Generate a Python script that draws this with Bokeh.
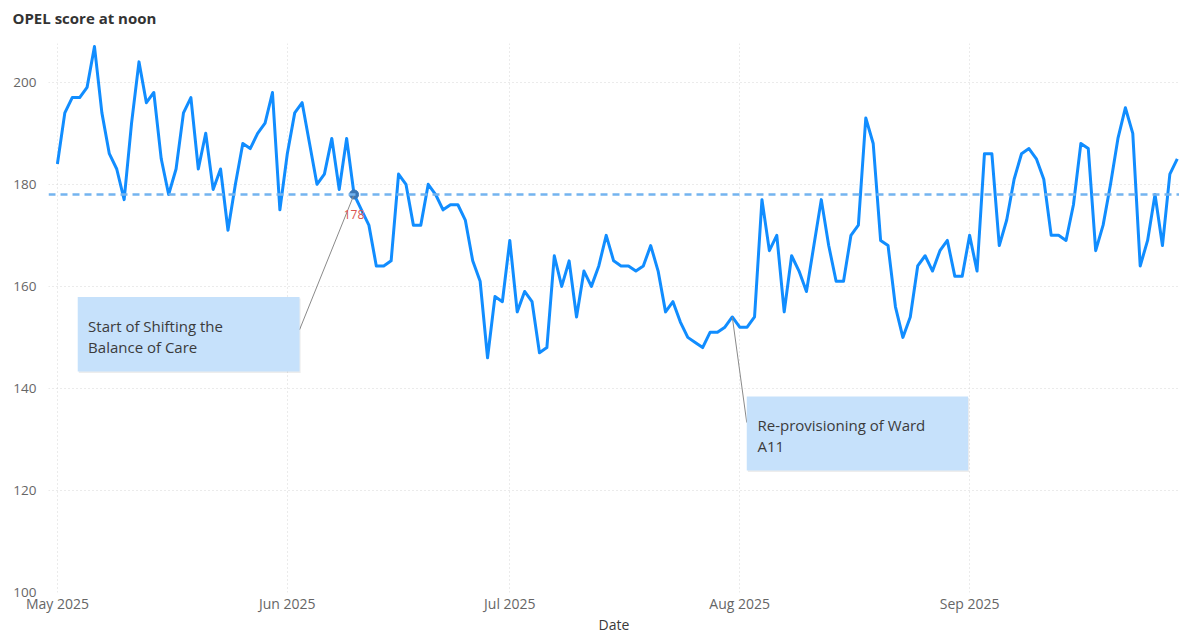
import pandas as pd
from datetime import timedelta
from bokeh.plotting import figure
from bokeh.models import (Range1d, FixedTicker, DatetimeTickFormatter, Span,
                          BoxAnnotation, Label, ColumnDataSource)
from bokeh.embed import file_html
from bokeh.resources import INLINE

# ---------------- data ----------------
start_date = "2025-05-01"
may = [184, 194, 197, 197, 199, 207, 194, 186, 183, 177, 192, 204, 196, 198, 185, 178,
       183, 194, 197, 183, 190, 179, 183, 171, 180, 188, 187, 190, 192, 198, 175]
jun = [186, 194, 196, 188, 180, 182, 189, 179, 189, 178, 175, 172, 164, 164, 165, 182,
       180, 172, 172, 180, 178, 175, 176, 176, 173, 165, 161, 146, 158, 157]
jul = [169, 155, 159, 157, 147, 148, 166, 160, 165, 154, 163, 160, 164, 170, 165, 164,
       164, 163, 164, 168, 163, 155, 157, 153, 150, 149, 148, 151, 151, 152, 154]
aug = [152, 152, 154, 177, 167, 170, 155, 166, 163, 159, 168, 177, 168, 161, 161, 170,
       172, 193, 188, 169, 168, 156, 150, 154, 164, 166, 163, 167, 169, 162, 162]
sep = [170, 163, 186, 186, 168, 173, 181, 186, 187, 185, 181, 170, 170, 169, 176, 188,
       187, 167, 172, 180, 189, 195, 190, 164, 169, 178, 168, 182, 185]
scores = may + jun + jul + aug + sep
dates = pd.date_range(start_date, periods=len(scores), freq="D")

y_ticks = [100, 120, 140, 160, 180, 200]
month_ticks = ["2025-05-01", "2025-06-01", "2025-07-01", "2025-08-01", "2025-09-01"]
threshold = 178

title_text = "OPEL score at noon"
x_label_text = "Date"
ann1_text = ["Start of Shifting the", "Balance of Care"]
ann1_date = "2025-06-10"
ann2_text = ["Re-provisioning of Ward", "A11"]
ann2_date = "2025-07-31"

# ---------------- figure ----------------
d0 = dates[0]
def day(offset):
    return d0 + timedelta(days=offset)

p = figure(width=1179, height=636, x_axis_type="datetime",
           output_backend="svg", toolbar_location=None,
           x_range=Range1d(d0 - timedelta(days=1.2), dates[-1] + timedelta(days=0.3)),
           y_range=Range1d(100, 207.6),
           min_border_left=48, min_border_right=0, min_border_top=43, min_border_bottom=43)
p.outline_line_color = None
p.background_fill_color = "white"
p.border_fill_color = "white"

p.title.text = title_text
p.title.align = "left"
p.title.offset = -36
p.title.text_font = "Open Sans"
p.title.text_font_size = "15px"
p.title.text_font_style = "bold"
p.title.text_color = "#333333"
p.title.standoff = 8
p.title.padding = dict(left=0, right=0, top=0, bottom=12)

tick_ms = [pd.Timestamp(t).value // 10**6 for t in month_ticks]
p.xaxis.ticker = FixedTicker(ticks=tick_ms)
fmt = "%b %Y"
p.xaxis.formatter = DatetimeTickFormatter(years=fmt, months=fmt, days=fmt, hours=fmt,
                                          minutes=fmt, seconds=fmt, milliseconds=fmt,
                                          microseconds=fmt, hourmin=fmt, minsec=fmt)
p.yaxis.ticker = FixedTicker(ticks=y_ticks)

for ax in (p.xaxis, p.yaxis):
    ax.axis_line_color = None
    ax.major_tick_line_color = None
    ax.minor_tick_line_color = None
    ax.major_tick_out = 0
    ax.major_tick_in = 0
    ax.minor_tick_out = 0
    ax.minor_tick_in = 0
    ax.major_label_text_font = "Open Sans"
    ax.major_label_text_color = "#666666"
p.xaxis.major_label_text_font_size = "14px"
p.yaxis.major_label_text_font_size = "13.5px"
p.xaxis.major_label_standoff = 1
p.yaxis.major_label_standoff = 12

p.xaxis.axis_label = x_label_text
p.xaxis.axis_label_text_font = "Open Sans"
p.xaxis.axis_label_text_font_size = "14px"
p.xaxis.axis_label_text_font_style = "normal"
p.xaxis.axis_label_text_color = "#3a3a3a"
p.xaxis.axis_label_standoff = -1

for g in (p.xgrid, p.ygrid):
    g.grid_line_color = "#d6d6d6"
    g.grid_line_dash = "1 3"
    g.grid_line_width = 1

p.add_layout(Span(location=threshold, dimension="width", line_color="#74b4ef",
                  line_width=2.5, line_dash="7 5"))

src = ColumnDataSource(dict(date=dates, score=scores))
p.line("date", "score", source=src, line_color="#118DFF", line_width=3,
       line_join="round")

# highlighted point
a1 = pd.Timestamp(ann1_date)
a1_val = scores[list(dates).index(a1)]
p.scatter([a1], [a1_val], size=9, fill_color="#3b77b6", line_color="#3b77b6")
p.add_layout(Label(x=a1, y=a1_val, text=str(a1_val), y_offset=-20, text_align="center",
                   text_baseline="middle", text_font="Open Sans", text_font_size="12px",
                   text_color="#d9534f"))

a2 = pd.Timestamp(ann2_date)
a2_val = scores[list(dates).index(a2)]

box_fill = "#c6e1fb"
b1 = dict(left=day(2.74), right=day(32.65), top=157.9, bottom=143.3)
b2 = dict(left=day(92.95), right=day(122.8), top=138.4, bottom=123.9)
for b in (b1, b2):
    p.add_layout(BoxAnnotation(left=b["left"] + timedelta(days=0.15), right=b["right"] + timedelta(days=0.15),
                               top=b["top"] - 0.3, bottom=b["bottom"] - 0.3,
                               fill_color="#000000", fill_alpha=0.07, line_color=None))
    p.add_layout(BoxAnnotation(left=b["left"], right=b["right"], top=b["top"], bottom=b["bottom"],
                               fill_color=box_fill, fill_alpha=1.0, line_color=None))

p.segment(x0=[a1, a2], y0=[a1_val, a2_val],
          x1=[b1["right"], b2["left"]], y1=[151.5, 133.3],
          line_color="#8a8a8a", line_width=1)

for i, t in enumerate(ann1_text):
    p.add_layout(Label(x=day(4.14), y=152.3 - 4.1 * i, text=t, text_font="Open Sans",
                       text_font_size="15px", text_color="#3b3b3b", text_baseline="alphabetic"))
for i, t in enumerate(ann2_text):
    p.add_layout(Label(x=day(94.4), y=132.9 - 4.2 * i, text=t, text_font="Open Sans",
                       text_font_size="15px", text_color="#3b3b3b", text_baseline="alphabetic"))

open("out.html", "w").write(file_html(p, INLINE))
